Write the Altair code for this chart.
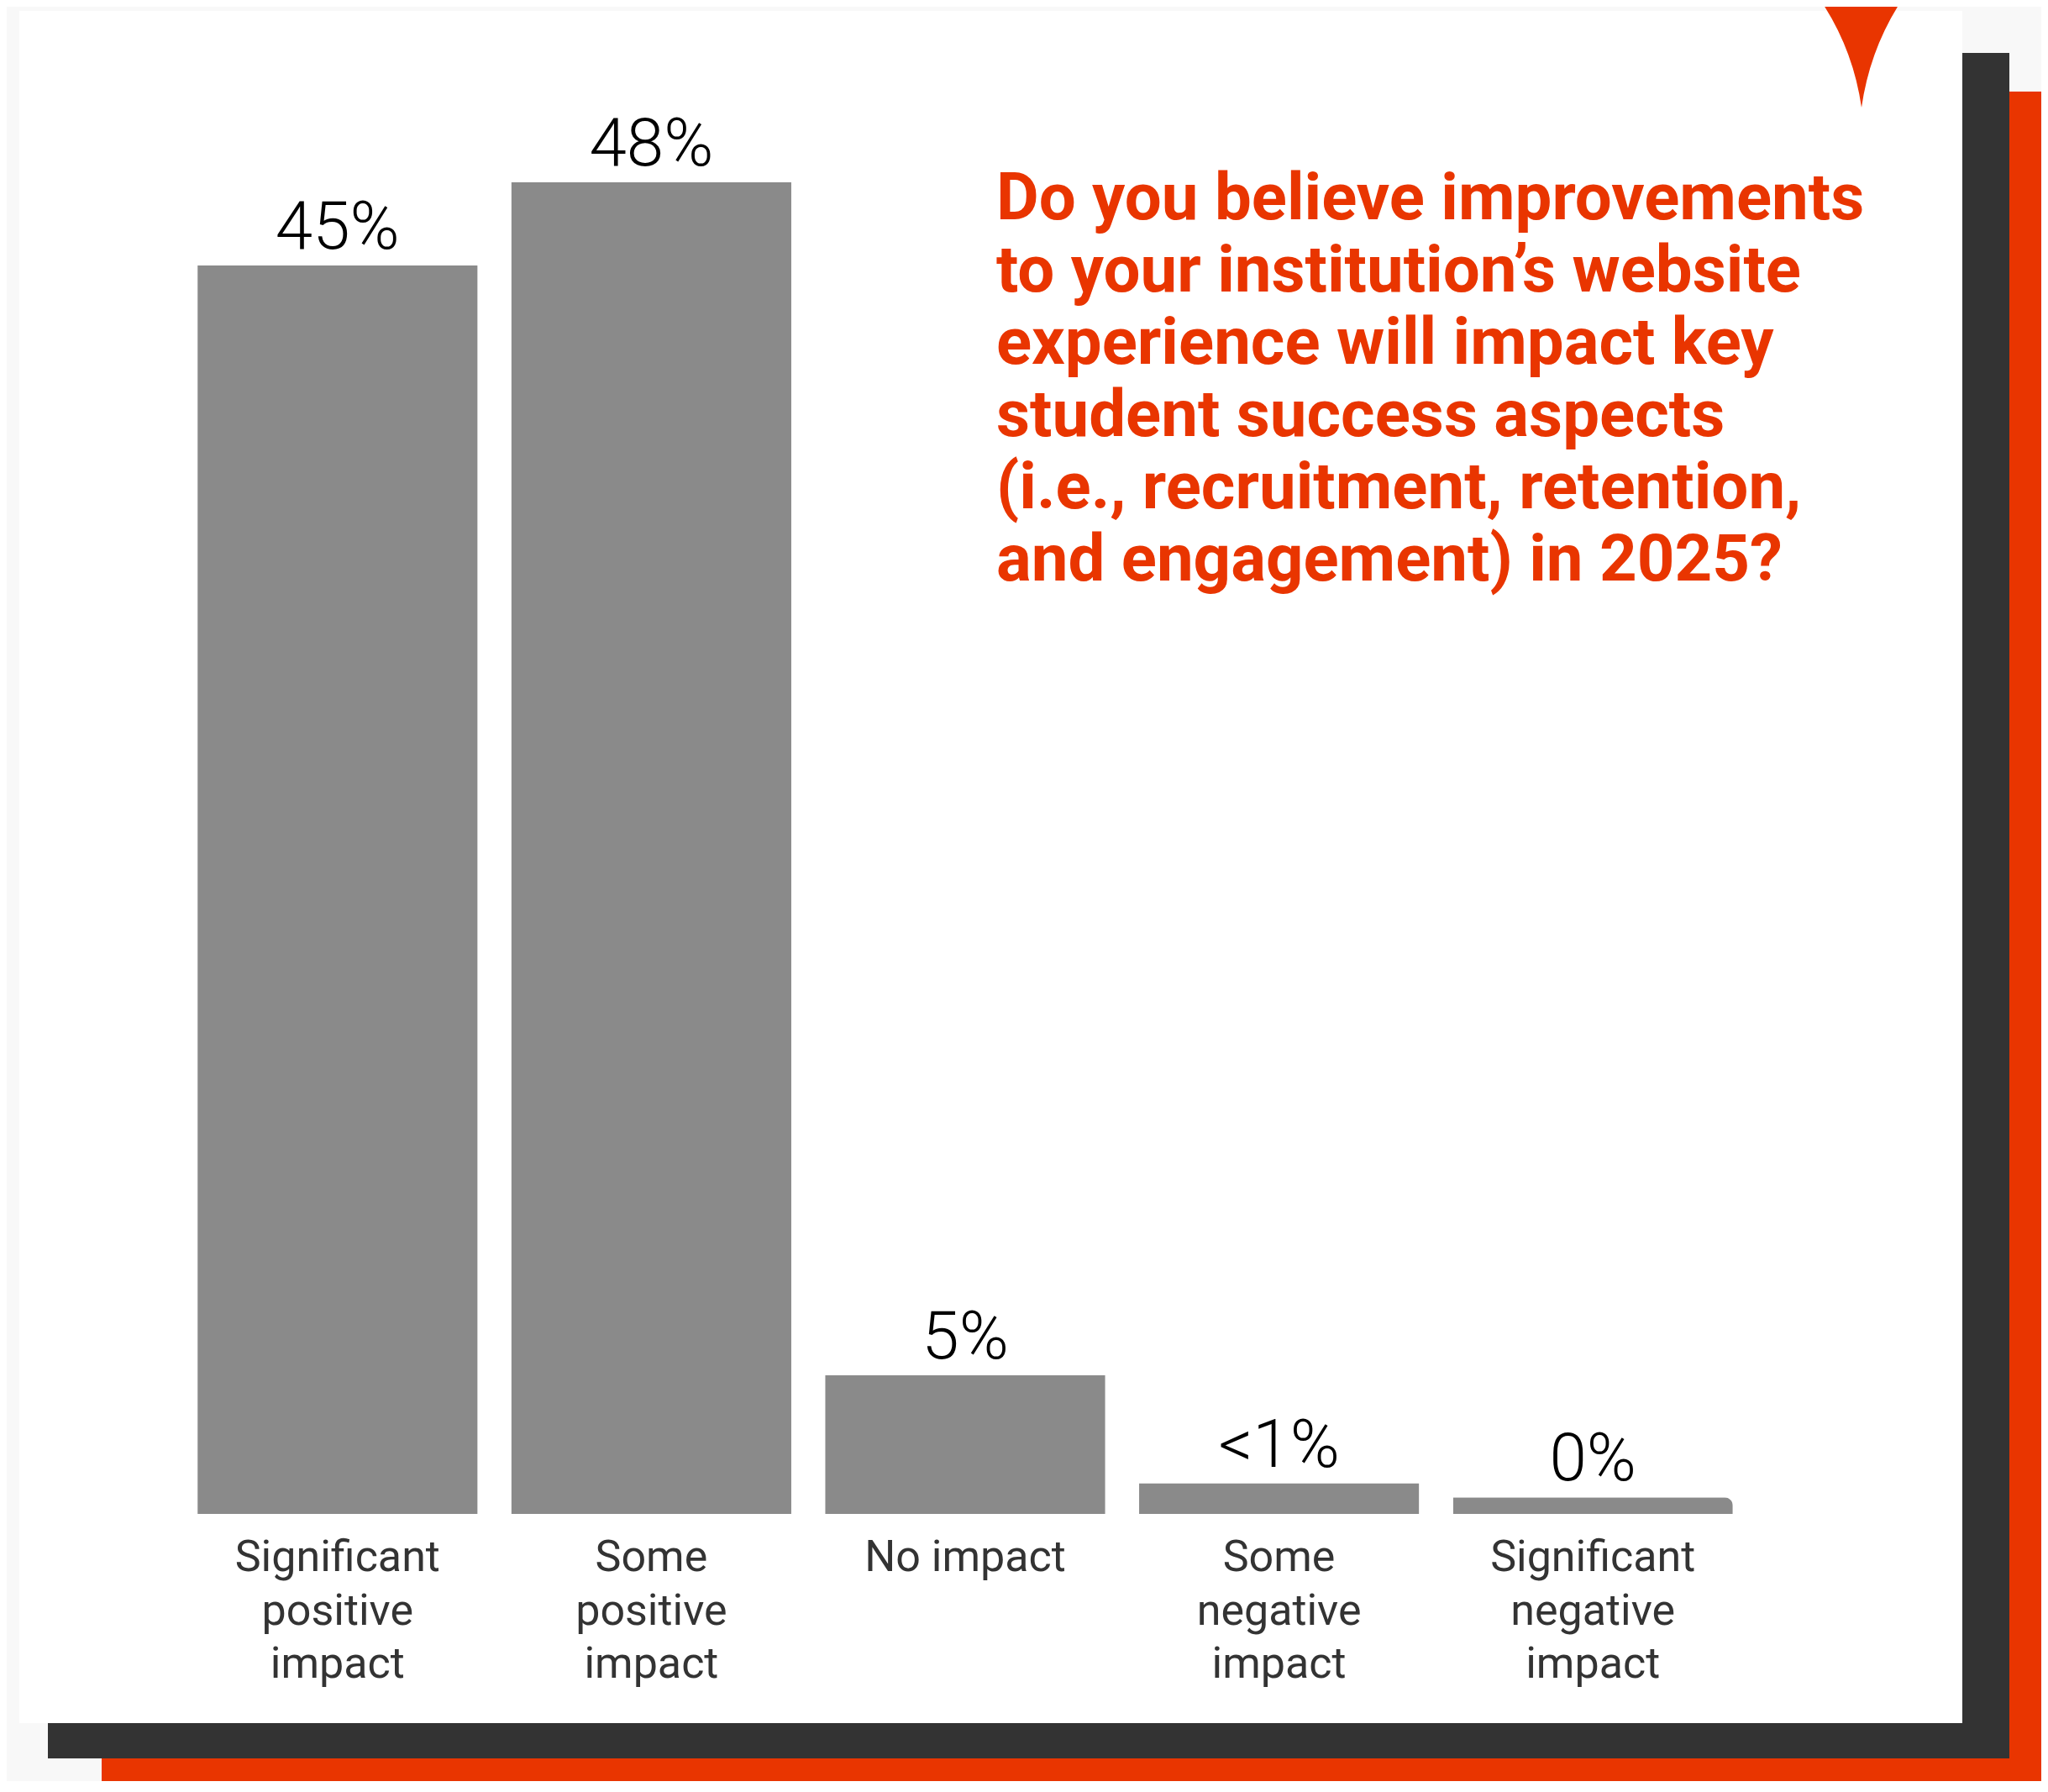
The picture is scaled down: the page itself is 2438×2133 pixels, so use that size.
import altair as alt
import pandas as pd

# ---- data ----
categories = [
    "Significant positive impact",
    "Some positive impact",
    "No impact",
    "Some negative impact",
    "Significant negative impact",
]
values = [45, 48, 5, 1.1, 0.6]          # bar heights as drawn (percent)
value_labels = ["45%", "48%", "5%", "<1%", "0%"]
axis_labels = [
    "Significant\npositive\nimpact",
    "Some\npositive\nimpact",
    "No impact",
    "Some\nnegative\nimpact",
    "Significant\nnegative\nimpact",
]
title_lines = [
    "Do you believe improvements",
    "to your institution\u2019s website",
    "experience will impact key",
    "student success aspects",
    "(i.e., recruitment, retention,",
    "and engagement) in 2025?",
]

df = pd.DataFrame({
    "category": categories,
    "value": values,
    "value_label": value_labels,
    "axis_label": axis_labels,
})

RED = "#E93500"
DARK = "#333333"
GRAY = "#8a8a8a"

one = alt.Data(values=[{"k": 1}])

x = alt.X("category:N", sort=categories,
          scale=alt.Scale(paddingInner=0.1084, paddingOuter=0.0542), axis=None)
y = alt.Y("value:Q", scale=alt.Scale(domain=[0, 48], nice=False, zero=True), axis=None)


def deco_rect(x1, x2, y1, y2, color):
    return alt.Chart(one).mark_rect(color=color).encode(
        x=alt.value(x1), x2=alt.value(x2), y=alt.value(y1), y2=alt.value(y2)
    )


red_frame = deco_rect(-94, 2230, -108, 1920, RED)
dark_frame = deco_rect(-158, 2177, -154, 1876, DARK)
white_panel = deco_rect(-192, 2121, -204, 1834, "#ffffff")

tip_path = "M 0 0 Q -10 -70 -49 -128 L -49 -140 L 48 -140 L 48 -128 Q 10 -70 0 0 Z"
tip = alt.Chart(one).mark_point(
    shape=tip_path, size=4, filled=True, color=RED, opacity=1, strokeWidth=0
).encode(x=alt.value(2001), y=alt.value(-89))

bars = alt.Chart(df).mark_bar(color=GRAY).encode(x=x, y=y).transform_filter(
    alt.datum.category != categories[-1]
)
bar_last = alt.Chart(df).mark_bar(color=GRAY, cornerRadiusTopRight=10).encode(
    x=x, y=y
).transform_filter(alt.datum.category == categories[-1])

vals = alt.Chart(df).mark_text(
    dy=-20, baseline="alphabetic", fontSize=80, font="Roboto", fontWeight=300, color="#000000"
).encode(x=x, y=y, text="value_label:N")

labels = alt.Chart(df).mark_text(
    lineBreak="\n", baseline="alphabetic", dy=68, fontSize=52, lineHeight=63.5,
    color="#333333", font="Roboto"
).encode(x=x, y=alt.datum(0), text="axis_label:N")

title = alt.Chart(one).mark_text(
    align="left", baseline="alphabetic", fontSize=78, fontWeight="bold",
    font="Roboto", color=RED, lineHeight=86
).encode(x=alt.value(971), y=alt.value(44), text=alt.value(title_lines))

chart = alt.layer(
    red_frame, dark_frame, white_panel, tip, bars, bar_last, vals, labels, title
).properties(
    width=1868,
    height=1585,
    autosize=alt.AutoSizeParams(type="none"),
    padding={"left": 207, "top": 209, "right": 347, "bottom": 318},
    background="#f8f8f8",
).configure_view(strokeWidth=0)

chart.save("out.html", embed_options={"renderer": "svg", "actions": False})
